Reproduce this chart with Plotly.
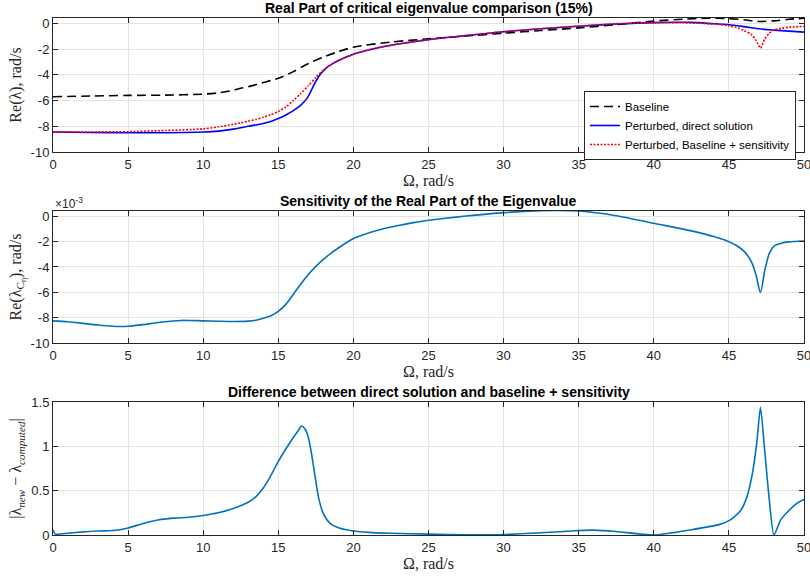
import plotly.graph_objects as go

# ---------------- data ----------------
# Panel 1: real part of critical eigenvalue
omega_base = [0, 2.5, 5, 7.5, 10, 11, 12, 12.5, 13, 14, 15, 16, 17, 18, 19, 20, 22.5, 25,
              27.5, 30, 32.5, 35, 37.5, 40, 42, 43.5, 45, 46, 47, 48, 49, 50]
re_base = [-5.7, -5.65, -5.6, -5.58, -5.5, -5.4, -5.2, -5.05, -4.92, -4.6, -4.27, -3.75,
           -3.12, -2.62, -2.2, -1.85, -1.45, -1.2, -0.98, -0.76, -0.55, -0.35, -0.1,
           0.18, 0.33, 0.4, 0.37, 0.28, 0.15, 0.2, 0.32, 0.4]

omega_direct = [0, 2.5, 5, 7.5, 10, 11, 12, 12.5, 13, 14, 14.5, 15, 15.5, 16, 16.5, 16.9,
                17.1, 17.3, 17.55, 17.8, 18.2, 18.6, 19, 20, 21, 22.5, 25, 27.5, 30, 32.5,
                35, 37.5, 40, 42.5, 44, 45, 46, 47, 48, 49, 50]
re_direct = [-8.45, -8.48, -8.5, -8.5, -8.45, -8.38, -8.22, -8.12, -8.0, -7.78, -7.62,
             -7.4, -7.12, -6.78, -6.35, -5.85, -5.45, -4.95, -4.4, -3.95, -3.45, -3.15,
             -2.88, -2.4, -2.07, -1.7, -1.27, -0.95, -0.65, -0.42, -0.22, -0.05, 0.06,
             0.08, -0.03, -0.1, -0.25, -0.42, -0.52, -0.6, -0.68]

omega_sens = [0, 2.5, 5, 7.5, 10, 11, 12, 12.5, 13, 13.5, 14, 14.5, 15, 15.5, 16, 16.5, 17,
              17.5, 18, 18.5, 19, 20, 21, 22.5, 25, 27.5, 30, 32.5, 35, 37.5, 40, 42, 44,
              45, 45.5, 46, 46.5, 46.8, 47.1, 47.4, 47.7, 48, 48.5, 49, 50]
re_sens = [-8.43, -8.44, -8.42, -8.33, -8.2, -8.05, -7.85, -7.73, -7.6, -7.47, -7.3, -7.1,
           -6.85, -6.5, -6.0, -5.45, -4.85, -4.2, -3.62, -3.2, -2.9, -2.4, -2.05, -1.69,
           -1.26, -0.95, -0.64, -0.41, -0.2, -0.02, 0.06, 0.05, -0.05, -0.18, -0.32,
           -0.55, -0.88, -1.3, -1.92, -1.2, -0.75, -0.52, -0.38, -0.3, -0.23]

# Panel 2: sensitivity of the real part (x 1e-3)
omega_2 = [0, 1, 2, 3, 4, 4.5, 5, 6, 7, 8, 8.5, 9, 10, 11, 12, 13, 13.5, 14, 14.5, 15,
           15.5, 16, 16.5, 17, 17.5, 18, 18.5, 19, 20, 21, 22, 23, 24, 25, 26, 27.5, 30,
           32.5, 33.5, 35, 36, 37.5, 40, 42.5, 44, 45, 45.5, 46, 46.5, 46.8, 47.1, 47.4,
           47.7, 48, 48.5, 49, 50]
sens_e3 = [-8.25, -8.32, -8.45, -8.58, -8.68, -8.7, -8.68, -8.55, -8.38, -8.26, -8.22,
           -8.22, -8.25, -8.28, -8.3, -8.27, -8.2, -8.05, -7.85, -7.5, -6.95, -6.15,
           -5.35, -4.6, -3.95, -3.4, -2.92, -2.5, -1.75, -1.32, -0.98, -0.72, -0.5,
           -0.31, -0.17, 0.02, 0.29, 0.44, 0.46, 0.42, 0.3, 0.05, -0.55, -1.15, -1.6,
           -2.0, -2.3, -2.75, -3.6, -4.6, -6.0, -4.2, -2.9, -2.35, -2.12, -2.02, -1.95]

# Panel 3: difference
omega_3 = [0, 0.15, 0.5, 1, 2, 3, 4, 5, 6, 7, 8, 9, 10, 11, 12, 13, 13.5, 14, 14.5, 15,
           15.5, 16, 16.3, 16.55, 16.8, 17, 17.2, 17.45, 17.67, 18, 18.45, 19.1, 20, 21,
           22.5, 25, 27.5, 30, 32.5, 35, 36, 37.5, 40, 42.5, 44.4, 45.1, 45.8, 46.2,
           46.56, 46.85, 47.1, 47.38, 47.67, 48, 48.45, 48.9, 49.55, 50]
diff_abs = [0.06, 0.01, 0.012, 0.02, 0.035, 0.045, 0.05, 0.08, 0.13, 0.17, 0.19, 0.2,
            0.22, 0.25, 0.3, 0.37, 0.43, 0.53, 0.67, 0.83, 0.97, 1.1, 1.17, 1.23, 1.19,
            1.1, 0.93, 0.66, 0.43, 0.24, 0.13, 0.075, 0.045, 0.03, 0.02, 0.01, 0.003,
            0.006, 0.025, 0.05, 0.055, 0.04, 0.0, 0.06, 0.12, 0.17, 0.28, 0.43, 0.69,
            1.03, 1.44, 0.96, 0.43, 0.0, 0.17, 0.26, 0.36, 0.4]

x_ticks = [0, 5, 10, 15, 20, 25, 30, 35, 40, 45, 50]
x_tick_labels = ["0", "5", "10", "15", "20", "25", "30", "35", "40", "45", "50"]
y1_ticks = [0, -2, -4, -6, -8, -10]
y1_tick_labels = ["0", "-2", "-4", "-6", "-8", "-10"]
y3_ticks = [0, 0.5, 1, 1.5]
y3_tick_labels = ["0", "0.5", "1", "1.5"]

titles = ["Real Part of critical eigenvalue comparison (15%)",
          "Sensitivity of the Real Part of the Eigenvalue",
          "Difference between direct solution and baseline + sensitivity"]

# ---------------- figure ----------------
AX = "#262626"
GRID = "#e3e3e3"
SANS = "Liberation Sans, Arial, sans-serif"
SERIF = "Liberation Serif, DejaVu Serif, serif"
MBLUE = "#0072BD"

fig = go.Figure()
fig.add_trace(go.Scatter(x=omega_base, y=re_base, mode="lines", name="Baseline",
                         line=dict(color="black", width=1.6, dash="9px,5px", shape="spline", smoothing=0.8),
                         xaxis="x", yaxis="y"))
fig.add_trace(go.Scatter(x=omega_direct, y=re_direct, mode="lines", name="Perturbed, direct solution",
                         line=dict(color="#0000FF", width=1.6, shape="spline", smoothing=0.8),
                         xaxis="x", yaxis="y"))
fig.add_trace(go.Scatter(x=omega_sens, y=re_sens, mode="lines", name="Perturbed, Baseline + sensitivity",
                         line=dict(color="#FF0000", width=1.6, dash="2px,1.5px", shape="spline", smoothing=0.7),
                         xaxis="x", yaxis="y"))
fig.add_trace(go.Scatter(x=omega_2, y=sens_e3, mode="lines", showlegend=False,
                         line=dict(color=MBLUE, width=1.6, shape="spline", smoothing=0.8),
                         xaxis="x2", yaxis="y2"))
fig.add_trace(go.Scatter(x=omega_3, y=diff_abs, mode="lines", showlegend=False,
                         line=dict(color=MBLUE, width=1.6, shape="spline", smoothing=0.6),
                         xaxis="x3", yaxis="y3"))

L, R, T, B = 53, 6, 18, 41
H = 576 - T - B
def dom(top_px, bot_px):
    return [1 - (bot_px - T) / H, 1 - (top_px - T) / H]

d1 = dom(18, 152)
d2 = dom(211, 343)
d3 = dom(402, 535)

def xax(anchor):
    return dict(domain=[0, 1], anchor=anchor, range=[0, 50], tickvals=x_ticks, ticktext=x_tick_labels,
                ticks="inside", ticklen=5, tickcolor=AX, showline=True, linecolor=AX, linewidth=1,
                mirror="ticks", showgrid=True, gridcolor=GRID, gridwidth=1, zeroline=False,
                ticklabeloverflow="allow", automargin=False,
                tickfont=dict(family=SANS, size=13, color=AX),
                title=dict(text="Ω, rad/s", font=dict(family=SERIF, size=16, color=AX), standoff=2))

def yax(anchor, domain, rng, tv, tt, title):
    return dict(domain=domain, anchor=anchor, range=rng, tickvals=tv, ticktext=tt,
                ticks="inside", ticklen=5, tickcolor=AX, showline=True, linecolor=AX, linewidth=1,
                mirror="ticks", showgrid=True, gridcolor=GRID, gridwidth=1, zeroline=False,
                ticklabeloverflow="allow",
                tickfont=dict(family=SANS, size=13, color=AX),
                title=dict(text=title, font=dict(family=SERIF, size=16, color=AX), standoff=5))

fig.update_layout(
    width=810, height=576, margin=dict(l=L, r=R, t=T, b=B),
    paper_bgcolor="white", plot_bgcolor="white",
    xaxis=xax("y"), xaxis2=xax("y2"), xaxis3=xax("y3"),
    yaxis=yax("x", d1, [-10, 0.42], y1_ticks, y1_tick_labels, "Re(λ), rad/s"),
    yaxis2=yax("x2", d2, [-10, 0.42], y1_ticks, y1_tick_labels,
               "Re(λ<sub>C<sub>η</sub></sub>), rad/s"),
    yaxis3=yax("x3", d3, [0, 1.5], y3_ticks, y3_tick_labels,
               "|λ<sub><i>new</i></sub> − λ<sub><i>computed</i></sub>|"),
    legend=dict(x=(796 - L) / (810 - L - R), xanchor="right", y=1 - (91 - T) / H, yanchor="top",
                bgcolor="white", bordercolor=AX, borderwidth=1,
                font=dict(family=SANS, size=11.5, color="black"), tracegroupgap=0,
                itemwidth=30),
    showlegend=True,
)

for txt, d in zip(titles, [d1, d2, d3]):
    fig.add_annotation(text="<b>" + txt + "</b>", xref="paper", yref="paper", x=0.5, y=d[1],
                       xanchor="center", yanchor="bottom", showarrow=False, yshift=0,
                       font=dict(family=SANS, size=14, color="black"))

fig.add_annotation(text="×10<sup>-3</sup>", xref="paper", yref="paper", x=0, y=d2[1],
                   xanchor="left", yanchor="bottom", showarrow=False, yshift=-2,
                   font=dict(family=SANS, size=12, color=AX))

fig.write_html("out.html")
